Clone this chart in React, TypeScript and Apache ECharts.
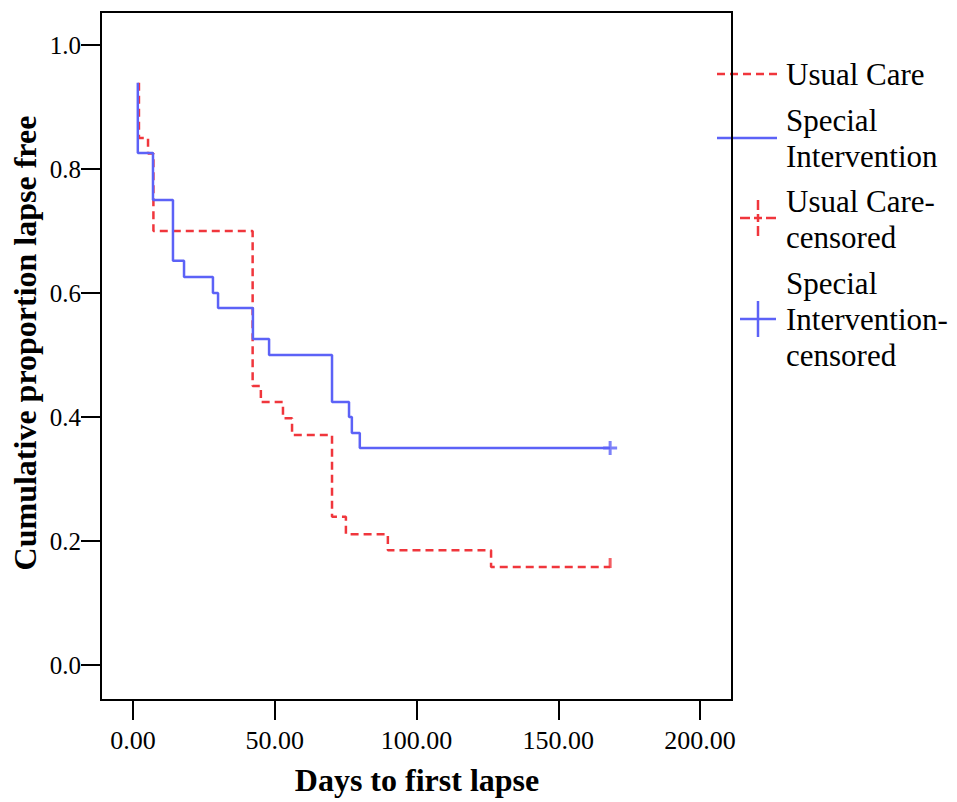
import React, { useEffect, useRef } from "react";
import * as echarts from "echarts";

// Kaplan-Meier step points
const usualCareDays = [2.1, 2.1, 5.3, 7.2, 42.2, 45.1, 52.9, 56.1, 70.2, 75.1, 89.9, 126.3, 168.3];
const usualCareSurv = [0.939, 0.85, 0.825, 0.7, 0.45, 0.424, 0.398, 0.371, 0.239, 0.211, 0.185, 0.158, 0.158];

const specialDays = [1.7, 1.7, 7.05, 14.1, 18, 28.2, 30, 42.3, 48, 70.2, 76.2, 77.2, 80, 168.3];
const specialSurv = [0.939, 0.826, 0.75, 0.652, 0.626, 0.6, 0.576, 0.526, 0.5, 0.424, 0.4, 0.374, 0.35, 0.35];

const usualCareCensored = [[168.3, 0.158]];
const specialCensored = [[168.3, 0.35]];

const xTicks = [0, 50, 100, 150, 200];
const yTicks = [0, 0.2, 0.4, 0.6, 0.8, 1.0];

const legendNames = ["Usual Care", "Special\nIntervention", "Usual Care-\ncensored", "Special\nIntervention-\ncensored"];
const xTitle = "Days to first lapse";
const yTitle = "Cumulative proportion lapse free";

const RED = "#f0363c";
const BLUE = "#5c62f7";
const FONT = "'Liberation Serif', 'Times New Roman', serif";

export default function App() {
  const ref = useRef<HTMLDivElement>(null);

  useEffect(() => {
    if (!ref.current) return;
    const chart = echarts.init(ref.current, null, { renderer: "svg" });

    const uc = usualCareDays.map((d, i) => [d, usualCareSurv[i]]);
    const sp = specialDays.map((d, i) => [d, specialSurv[i]]);

    const legendText = (txt: string, y: number) => ({
      type: "text",
      x: 786,
      y,
      style: {
        text: txt,
        font: `31px ${FONT}`,
        fill: "#000",
        textAlign: "left",
        textVerticalAlign: "middle",
        lineHeight: 36,
      },
    });
    const ln = (x1: number, y1: number, x2: number, y2: number, color: string, dash?: number[]) => ({
      type: "line",
      shape: { x1, y1, x2, y2 },
      style: { stroke: color, lineWidth: 2.5, lineDash: dash },
    });

    chart.setOption({
      animation: false,
      backgroundColor: "#fff",
      grid: { left: 101, right: 225, top: 12, bottom: 102, containLabel: false },
      xAxis: {
        type: "value",
        min: -11.287,
        max: 211.287,
        axisLine: { show: true, onZero: false, lineStyle: { color: "#000", width: 2 } },
        axisTick: { show: true, length: 20, customValues: xTicks, lineStyle: { color: "#000", width: 2 } },
        splitLine: { show: false },
        axisLabel: {
          customValues: xTicks,
          margin: 27,
          color: "#000",
          fontFamily: FONT,
          fontSize: 26,
          formatter: (v: number) => v.toFixed(2),
        },
      },
      yAxis: {
        type: "value",
        min: -0.05645,
        max: 1.05323,
        axisLine: { show: true, onZero: false, lineStyle: { color: "#000", width: 2 } },
        axisTick: { show: true, length: 20, customValues: yTicks, lineStyle: { color: "#000", width: 2 } },
        splitLine: { show: false },
        axisLabel: {
          customValues: yTicks,
          margin: 20,
          color: "#000",
          fontFamily: FONT,
          fontSize: 25,
          formatter: (v: number) => v.toFixed(1),
        },
      },
      series: [
        {
          name: "Usual Care",
          type: "line",
          step: "end",
          data: uc,
          symbol: "none",
          lineStyle: { color: RED, width: 2.5, type: [8, 5] },
          z: 2,
        },
        {
          name: "Special Intervention",
          type: "line",
          step: "end",
          data: sp,
          symbol: "none",
          lineStyle: { color: BLUE, width: 2.5 },
          z: 3,
        },
        {
          name: "Usual Care-censored",
          type: "scatter",
          data: usualCareCensored,
          symbol: "path://M0,0h3v10h-3z",
          symbolSize: [3, 10],
          symbolOffset: [0, -4],
          itemStyle: { color: RED },
          z: 4,
        },
        {
          name: "Special Intervention-censored",
          type: "scatter",
          data: specialCensored,
          symbol: "path://M5.5,0h3v14h-3zM0,5.5h14v3h-14z",
          symbolSize: 14,
          itemStyle: { color: BLUE },
          z: 4,
        },
      ],
      graphic: [
        {
          type: "rect",
          shape: { x: 101, y: 12, width: 631, height: 688 },
          style: { fill: "none", stroke: "#000", lineWidth: 2 },
          z: 10,
        },
        {
          type: "text",
          x: 417,
          y: 780,
          style: {
            text: xTitle,
            font: `bold 32px ${FONT}`,
            fill: "#000",
            textAlign: "center",
            textVerticalAlign: "middle",
          },
        },
        {
          type: "text",
          x: 25,
          y: 343,
          rotation: Math.PI / 2,
          style: {
            text: yTitle,
            font: `bold 32px ${FONT}`,
            fill: "#000",
            textAlign: "center",
            textVerticalAlign: "middle",
          },
        },
        // legend
        ln(717, 74, 777, 74, RED, [8, 5]),
        legendText(legendNames[0], 74),
        ln(717, 138, 777, 138, BLUE),
        legendText(legendNames[1], 138),
        ln(740, 218, 750, 218, RED),
        ln(754, 218, 762, 218, RED),
        ln(766, 218, 776, 218, RED),
        ln(758, 200, 758, 210, RED),
        ln(758, 214, 758, 222, RED),
        ln(758, 226, 758, 236, RED),
        legendText(legendNames[2], 219),
        ln(740, 319, 776, 319, BLUE),
        ln(758, 301, 758, 337, BLUE),
        legendText(legendNames[3], 319),
      ],
    });

    return () => chart.dispose();
  }, []);

  return <div ref={ref} style={{ width: 957, height: 802, position: "absolute", left: 0, top: 0 }} />;
}
